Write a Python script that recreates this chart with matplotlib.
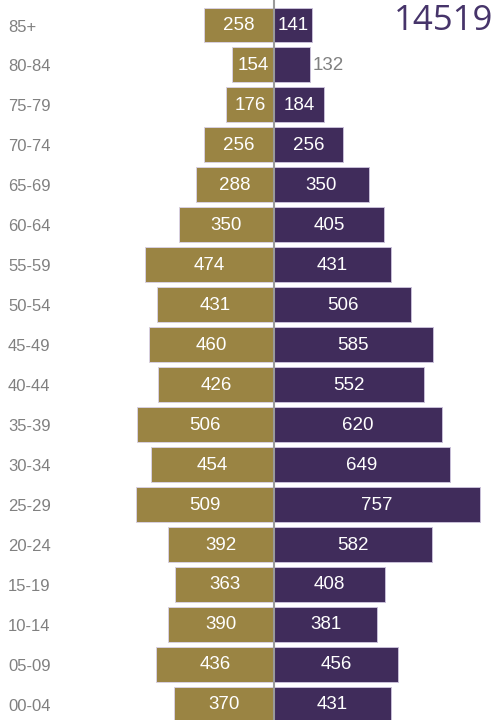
import matplotlib
matplotlib.use("Agg")
import matplotlib.pyplot as plt
import numpy as np

plt.rcParams['font.family'] = ['Liberation Sans', 'DejaVu Sans']

ages = ['85+', '80-84', '75-79', '70-74', '65-69', '60-64', '55-59', '50-54', '45-49',
        '40-44', '35-39', '30-34', '25-29', '20-24', '15-19', '10-14', '05-09', '00-04']
left_vals = [258, 154, 176, 256, 288, 350, 474, 431, 460, 426, 506, 454, 509, 392, 363, 390, 436, 370]
right_vals = [141, 132, 184, 256, 350, 405, 431, 506, 585, 552, 620, 649, 757, 582, 408, 381, 456, 431]

gold = '#9A8443'
purple = '#402C5B'

fig = plt.figure(figsize=(4.98, 7.2), dpi=100)
ax = fig.add_axes([0, 0, 1, 1])
ax.set_xlim(-1009, 825)
ax.set_ylim(17.40, -0.626)
ax.axis('off')

y = np.arange(len(ages))
lv = np.array(left_vals)
rv = np.array(right_vals)
h = 0.876
ax.barh(y, -lv, height=h, color=gold, edgecolor='#d8d0e0', linewidth=0.7, zorder=2)
ax.barh(y, rv, height=h, color=purple, edgecolor='#c8bfd8', linewidth=0.7, zorder=2)
ax.axvline(0, color='#9a9a9a', linewidth=1.5, zorder=3)

fs = 13.5
for i in range(len(ages)):
    ax.text(-lv[i] / 2, y[i] + 0.02, str(lv[i]), color='white', fontsize=fs,
            ha='center', va='center', zorder=4)
    if rv[i] >= 135:
        ax.text(rv[i] / 2, y[i] + 0.02, str(rv[i]), color='white', fontsize=fs,
                ha='center', va='center', zorder=4)
    else:
        ax.text(rv[i] + 10, y[i] + 0.02, str(rv[i]), color='#808080', fontsize=fs,
                ha='left', va='center', zorder=4)
    ax.text(0.016, y[i] + 0.05, ages[i], color='#808080', fontsize=12,
            ha='left', va='center', transform=ax.get_yaxis_transform())

total = int(lv.sum() + rv.sum())
ax.text(0.99, 0.994, str(total), color='#46346A', fontsize=25,
        family=['Open Sans', 'DejaVu Sans'], fontweight='normal',
        ha='right', va='top', transform=ax.transAxes)

fig.savefig('out.png', dpi=100)
